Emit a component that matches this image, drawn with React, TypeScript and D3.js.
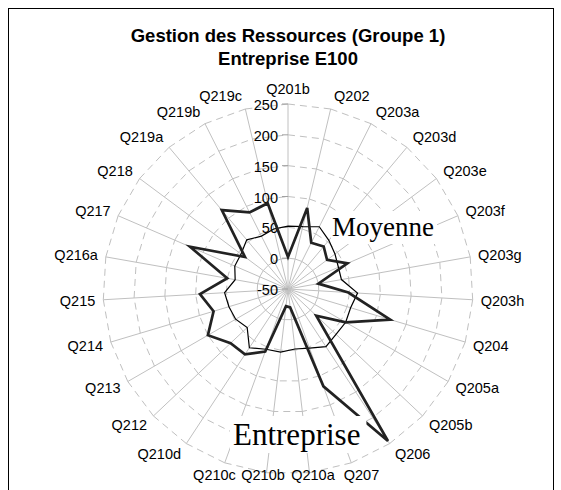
import * as d3 from "d3";

// categories, clockwise from the top
const categories = [
  "Q201b", "Q202", "Q203a", "Q203d", "Q203e", "Q203f", "Q203g", "Q203h",
  "Q204", "Q205a", "Q205b", "Q206", "Q207", "Q210a", "Q210b", "Q210c",
  "Q210d", "Q212", "Q213", "Q214", "Q215", "Q216a", "Q217", "Q218",
  "Q219a", "Q219b", "Q219c",
];

const entreprise = [
  2, 85, 34, 40, 29, 55, 0, 48, 123, 58, 13, 245, 118, -20, -22, 58,
  77, 78, 100, 76, 93, 50, 123, 37, 117, 89, 93,
];

const moyenne = [
  52, 54, 63, 53, 45, 39, 38, 63, 56, 58, 57, 62, 52, 48, 53, 54,
  64, 41, 48, 50, 53, 37, 44, 45, 54, 46, 50,
];

const tickValues = [-50, 0, 50, 100, 150, 200, 250];

const titleLines = ["Gestion des Ressources (Groupe 1)", "Entreprise E100"];

const W = 561;
const H = 490;
const cx = 288;
const cy = 289;
const R = 185;
const sans = "Arial, 'Liberation Sans', sans-serif";
const serif = "'Times New Roman', 'Liberation Serif', serif";

export default function App() {
  const n = categories.length;
  const r = d3.scaleLinear().domain([-50, 250]).range([0, R]);
  const angle = d3.scaleLinear().domain([0, n]).range([0, 2 * Math.PI]);

  const xy = (i: number, rad: number): [number, number] => [
    Math.sin(angle(i)) * rad,
    -Math.cos(angle(i)) * rad,
  ];

  const radial = d3
    .lineRadial<number>()
    .angle((_, i) => angle(i))
    .radius((d) => r(d))
    .curve(d3.curveLinearClosed);

  // dashed polygon gridlines, one dashed segment per pair of spokes
  const grid = tickValues
    .filter((t) => t > -50)
    .flatMap((t) =>
      categories.map((_, i) => {
        const [x1, y1] = xy(i, r(t));
        const [x2, y2] = xy(i + 1, r(t));
        return (
          <line
            key={`g${t}-${i}`}
            x1={x1}
            y1={y1}
            x2={x2}
            y2={y2}
            stroke="#c0c0c0"
            strokeWidth={1}
            strokeDasharray="7,5"
          />
        );
      })
    );

  const spokes = categories.map((_, i) => {
    const [x, y] = xy(i, R);
    return <line key={`s${i}`} x1={0} y1={0} x2={x} y2={y} stroke="#c0c0c0" strokeWidth={1} />;
  });

  const labelSize = 14.5;
  const catLabels = categories.map((c, i) => {
    const a = angle(i);
    const s = Math.sin(a);
    const co = -Math.cos(a);
    const [ex, ey] = xy(i, R);
    let x: number;
    let y: number;
    let anchor: "start" | "middle" | "end";
    if (Math.abs(s) < 0.05) {
      anchor = "middle";
      x = ex;
      y = ey - 15;
    } else if (co > 0.9) {
      // bottom labels sit under the spoke ends
      anchor = "middle";
      x = ex + s * 30;
      y = ey + 13 * co;
    } else {
      anchor = s > 0 ? "start" : "end";
      x = ex + Math.sign(s) * (2 + 6 * Math.abs(s));
      y = ey + 13 * co;
    }
    if (cy + y > 475) y = 475 - cy;
    return (
      <text
        key={`c${i}`}
        x={x}
        y={y}
        textAnchor={anchor}
        dominantBaseline="central"
        fontSize={labelSize}
        fontFamily={sans}
        fill="#000"
      >
        {c}
      </text>
    );
  });

  const ticks = tickValues.map((t) => (
    <g key={`t${t}`}>
      <line x1={-6} x2={0} y1={-r(t)} y2={-r(t)} stroke="#a0a0a0" strokeWidth={1} />
      <text
        x={-10}
        y={-r(t) + 1}
        textAnchor="end"
        dominantBaseline="central"
        fontSize={labelSize}
        fontFamily={sans}
        fill="#000"
      >
        {t}
      </text>
    </g>
  ));

  const moyW = 3.777 * 27;
  const entW = 4.11 * 31;

  return (
    <svg
      width={W}
      height={H}
      style={{ position: "absolute", left: 0, top: 0, background: "#fff" }}
    >
      <rect x={8.5} y={8.5} width={545} height={520} fill="#fff" stroke="#000" strokeWidth={1} />
      {titleLines.map((t, i) => (
        <text
          key={t}
          x={cx}
          y={42 + i * 23}
          textAnchor="middle"
          fontSize={18.5}
          fontWeight="bold"
          fontFamily={sans}
          fill="#000"
        >
          {t}
        </text>
      ))}
      <g transform={`translate(${cx},${cy})`}>
        {spokes}
        {grid}
        {ticks}
        <path d={radial(moyenne) ?? ""} fill="none" stroke="#000" strokeWidth={1.2} />
        <path
          d={radial(entreprise) ?? ""}
          fill="none"
          stroke="#222"
          strokeWidth={2.7}
          strokeLinejoin="miter"
        />
        {catLabels}
      </g>
      <rect x={331} y={236 - 25} width={moyW + 4} height={33} fill="#fff" />
      <text x={332} y={236} fontSize={27} fontFamily={serif} fill="#000">
        Moyenne
      </text>
      <rect x={230} y={445 - 29} width={entW + 9} height={37} fill="#fff" />
      <text x={233} y={445} fontSize={31} fontFamily={serif} fill="#000">
        Entreprise
      </text>
    </svg>
  );
}
